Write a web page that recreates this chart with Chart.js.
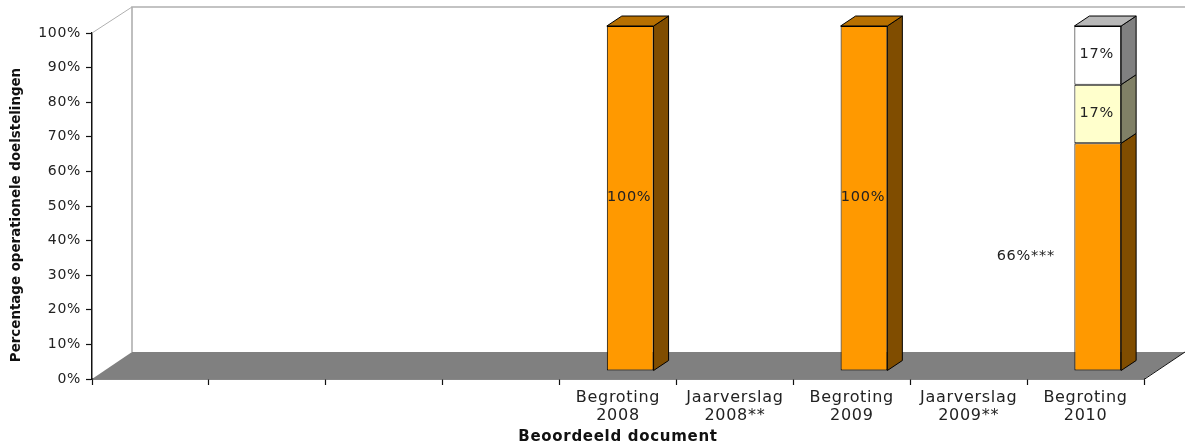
<!DOCTYPE html>
<html>
<head>
<meta charset="utf-8">
<style>html,body{margin:0;padding:0;background:#fff}canvas{display:block}</style>
<script src="https://cdn.jsdelivr.net/npm/chart.js@4"></script>
</head>
<body>
<canvas id="c" width="1185" height="446"></canvas>
<script>
const categories = [[""],[""],[""],[""],["Begroting","2008"],["Jaarverslag","2008**"],["Begroting","2009"],["Jaarverslag","2009**"],["Begroting","2010"]];
const orangeValues = [null,null,null,null,100,null,100,null,66];
const yellowValues = [null,null,null,null,null,null,null,null,17];
const whiteValues  = [null,null,null,null,null,null,null,null,17];
const orangeLabels = [null,null,null,null,"100%",null,"100%",null,"66%***"];
const yellowLabels = [null,null,null,null,null,null,null,null,"17%"];
const whiteLabels  = [null,null,null,null,null,null,null,null,"17%"];
const xTitle = "Beoordeeld document";
const yTitle = "Percentage operationele doelstelingen";

const FONT = '"DejaVu Sans"';
const K = 345/346, BAR_DX = 12.2, BAR_BOTTOM_SHIFT = -8;
const SIDE = {dx:15, dy:-10};
const WALL = {dx:40, dy:-27};

function withBarTransform(ctx, chart){
  const b = chart.chartArea.bottom;
  ctx.translate(BAR_DX, b*(1-K)+BAR_BOTTOM_SHIFT);
  ctx.scale(1,K);
}
const scene = {
  id:'scene',
  beforeDraw(chart){
    chart.ctx.letterSpacing='0.7px';
  },
  beforeDatasetsDraw(chart){
    const {ctx, chartArea:a} = chart;
    ctx.save();
    // floor
    ctx.fillStyle='#808080';
    ctx.beginPath();
    ctx.moveTo(a.left,a.bottom);
    ctx.lineTo(a.left+WALL.dx,a.bottom+WALL.dy);
    ctx.lineTo(a.right+WALL.dx+1,a.bottom+WALL.dy);
    ctx.lineTo(a.right,a.bottom);
    ctx.closePath();ctx.fill();
    ctx.strokeStyle='#111';ctx.lineWidth=1;
    ctx.beginPath();ctx.moveTo(a.right,a.bottom+0.5);ctx.lineTo(a.right+WALL.dx+1,a.bottom+WALL.dy);ctx.stroke();
    // walls
    ctx.strokeStyle='#b0b0b0';ctx.lineWidth=1;
    ctx.beginPath();ctx.moveTo(a.left,a.top);ctx.lineTo(a.left+WALL.dx,a.top+WALL.dy+1);ctx.stroke();
    ctx.lineWidth=1.6;
    ctx.beginPath();
    ctx.moveTo(a.left+WALL.dx,a.bottom+WALL.dy);
    ctx.lineTo(a.left+WALL.dx,a.top+WALL.dy+1);
    ctx.lineTo(a.right+WALL.dx+1,a.top+WALL.dy+1);
    ctx.stroke();
    ctx.restore();
    // bars
    ctx.save();
    withBarTransform(ctx,chart);
    chart.data.datasets.forEach((ds,di)=>{
      const meta = chart.getDatasetMeta(di);
      meta.data.forEach((el,i)=>{
        if(ds.data[i]==null) return;
        const l=el.x-el.width/2, r=el.x+el.width/2;
        ctx.fillStyle=ds.sideColor;ctx.strokeStyle='#000';ctx.lineWidth=1;
        ctx.beginPath();
        ctx.moveTo(r,el.base);ctx.lineTo(r+SIDE.dx,el.base+SIDE.dy);
        ctx.lineTo(r+SIDE.dx,el.y+SIDE.dy);ctx.lineTo(r,el.y);ctx.closePath();
        ctx.fill();ctx.stroke();
        const above = chart.data.datasets.slice(di+1).some(d=>d.data[i]!=null);
        if(!above){
          ctx.fillStyle=ds.topColor;
          ctx.beginPath();
          ctx.moveTo(l,el.y);ctx.lineTo(l+SIDE.dx,el.y+SIDE.dy);
          ctx.lineTo(r+SIDE.dx,el.y+SIDE.dy);ctx.lineTo(r,el.y);ctx.closePath();
          ctx.fill();ctx.stroke();
        }
      });
    });
  },
  afterDatasetsDraw(chart){
    const {ctx} = chart;
    ctx.font='14.5px '+FONT;ctx.fillStyle='#222';ctx.textAlign='center';ctx.textBaseline='middle';
    chart.data.datasets.forEach((ds,di)=>{
      chart.getDatasetMeta(di).data.forEach((el,i)=>{
        const t=ds.valueLabels[i];
        if(!t) return;
        const off=t.includes('*')?-72:-1;
        ctx.fillText(t,el.x+off,(el.y+el.base)/2-1);
      });
    });
    ctx.restore();
  },
  afterDraw(chart){
    const {ctx}=chart;
    ctx.save();
    ctx.letterSpacing='0px';
    ctx.fillStyle='#111';ctx.font='bold 13.4px '+FONT;
    ctx.textAlign='center';ctx.textBaseline='middle';
    ctx.translate(17,215);ctx.rotate(-Math.PI/2);
    ctx.fillText(yTitle,0,0);
    ctx.restore();
  }
};
new Chart(document.getElementById('c'),{
  type:'bar',
  plugins:[scene],
  data:{labels:categories,datasets:[
    {label:'Orange',data:orangeValues,valueLabels:orangeLabels,backgroundColor:'#ff9900',sideColor:'#804d00',topColor:'#b87000',borderColor:'#000',borderWidth:1,inflateAmount:0,borderSkipped:false,clip:false},
    {label:'Yellow',data:yellowValues,valueLabels:yellowLabels,backgroundColor:'#ffffcc',sideColor:'#808066',topColor:'#b8b892',borderColor:'#000',borderWidth:1,inflateAmount:0,borderSkipped:false,clip:false},
    {label:'White',data:whiteValues,valueLabels:whiteLabels,backgroundColor:'#ffffff',sideColor:'#808080',topColor:'#b8b8b8',borderColor:'#000',borderWidth:1,inflateAmount:0,borderSkipped:false,clip:false}
  ]},
  options:{
    responsive:false,animation:false,
    layout:{padding:{top:33,right:41,left:0,bottom:0}},
    barPercentage:0.4,categoryPercentage:1,
    plugins:{legend:{display:false},tooltip:{enabled:false}},
    scales:{
      x:{stacked:true,
        afterFit(s){s.height=67;},
        border:{color:'#111',width:1.5},
        grid:{drawOnChartArea:false,tickLength:6,tickColor:'#111',tickWidth:1.2,offset:true},
        ticks:{color:'#222',font:{family:FONT,size:16,lineHeight:1.12},padding:4,maxRotation:0,autoSkip:false},
        title:{display:true,text:xTitle,color:'#111',font:{family:FONT,size:15,weight:'bold'},padding:{top:0,bottom:0}}
      },
      y:{stacked:true,min:0,max:100,
        afterFit(s){s.width=92;},
        border:{color:'#111',width:1.5},
        grid:{drawOnChartArea:false,tickLength:6,tickColor:'#111',tickWidth:1.2},
        ticks:{stepSize:10,color:'#222',font:{family:FONT,size:14},padding:5,callback:v=>v+'%'}
      }
    }
  }
});
</script>
</body>
</html>
